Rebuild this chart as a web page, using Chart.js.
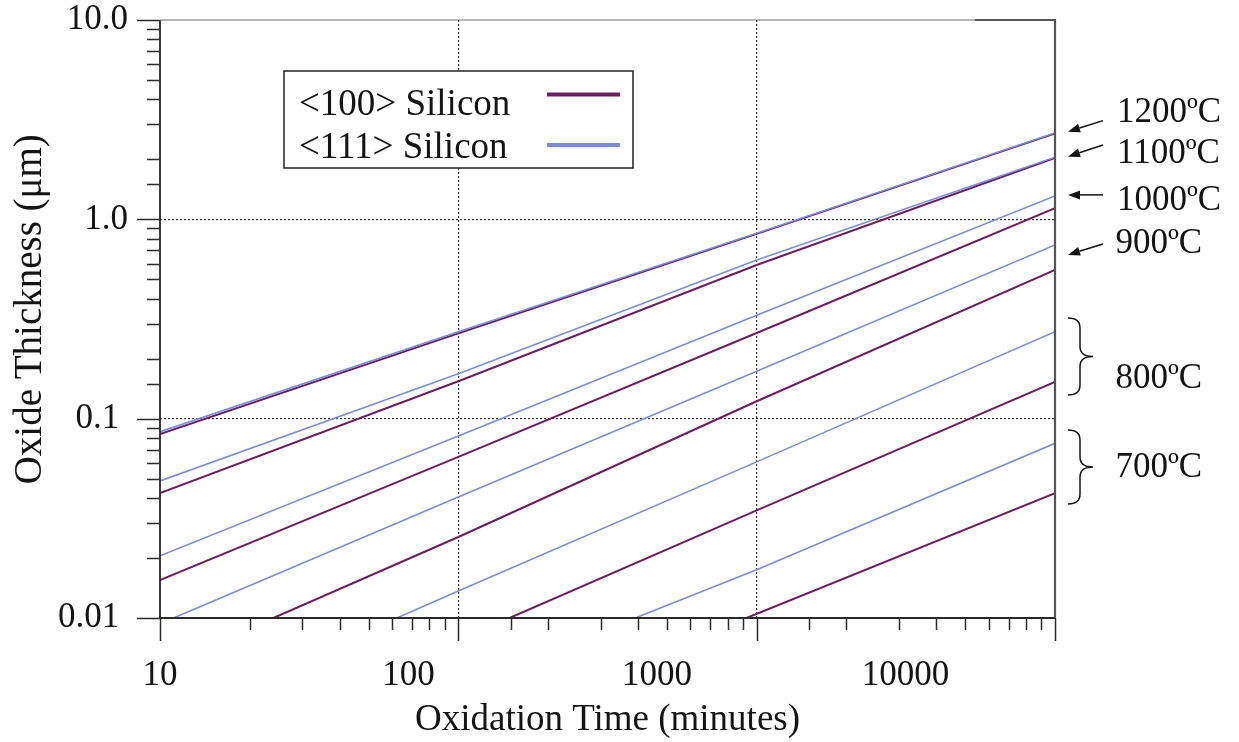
<!DOCTYPE html>
<html><head><meta charset="utf-8">
<script src="https://cdn.jsdelivr.net/npm/chart.js@4.4.1/dist/chart.umd.min.js"></script>
<style>html,body{margin:0;padding:0;background:#fff}canvas{display:block}</style>
</head><body>
<canvas id="c" width="1239" height="742"></canvas>
<script>
// ---------------- data ----------------
const seriesNames = ['<100> Silicon', '<111> Silicon'];
const temperatures = ['1200ºC', '1100ºC', '1000ºC', '900ºC', '800ºC', '700ºC'];

const xTickValues = [10, 100, 1000, 10000];
const xTickLabels = ['10', '100', '1000', '10000'];
const yTickValues = [0.01, 0.1, 1, 10];
const yTickLabels = ['0.01', '0.1', '1.0', '10.0'];

// oxidation time (minutes)
const tDecades = [10, 100, 1000, 10000];
const t900_100 = [24.0, 100, 1000, 10000];
const t900_111 = [11.1, 100, 1000, 10000];
const t800_100 = [148.5, 1000, 10000];
const t800_111 = [62.2, 100, 1000, 10000];
const t700_100 = [924.5, 10000];
const t700_111 = [391.5, 1000, 10000];

// oxide thickness (um)
const d1200_100 = [0.0838, 0.268, 0.845, 2.70];
const d1200_111 = [0.0861, 0.273, 0.852, 2.71];
const d1100_100 = [0.0423, 0.154, 0.590, 2.03];
const d1100_111 = [0.0487, 0.168, 0.626, 2.05];
const d1000_100 = [0.0155, 0.0643, 0.269, 1.137];
const d1000_111 = [0.0205, 0.0819, 0.330, 1.311];
const d900_100 = [0.01, 0.0255, 0.1223, 0.557];
const d900_111 = [0.01, 0.0405, 0.173, 0.744];
const d800_100 = [0.01, 0.0347, 0.153];
const d800_111 = [0.01, 0.01366, 0.0607, 0.273];
const d700_100 = [0.01, 0.0423];
const d700_111 = [0.01, 0.01747, 0.0752];

// ---------------- styling ----------------
const PURPLE = 'rgb(108,30,98)';
const BLUE = 'rgb(122,142,214)';
const INK = '#141414';
const SERIF = '"Liberation Serif", "Times New Roman", serif';
Chart.defaults.font.family = SERIF;
Chart.defaults.color = INK;

const pts = (ts, ds) => ts.map((t, i) => ({x: t, y: ds[i]}));
const series111 = [[tDecades, d1200_111], [tDecades, d1100_111], [tDecades, d1000_111], [t900_111, d900_111], [t800_111, d800_111], [t700_111, d700_111]];
const series100 = [[tDecades, d1200_100], [tDecades, d1100_100], [tDecades, d1000_100], [t900_100, d900_100], [t800_100, d800_100], [t700_100, d700_100]];

const datasets = [];
series111.forEach((s, i) => datasets.push({label: seriesNames[1], temp: temperatures[i], data: pts(s[0], s[1]), borderColor: BLUE, borderWidth: 1.6}));
series100.forEach((s, i) => datasets.push({label: seriesNames[0], temp: temperatures[i], data: pts(s[0], s[1]), borderColor: PURPLE, borderWidth: 2}));
datasets.forEach(d => Object.assign(d, {xAxisID: 'x', yAxisID: 'y', pointRadius: 0, tension: 0, fill: false}));

const isDecade = v => { const l = Math.log10(v); return Math.abs(l - Math.round(l)) < 1e-6; };
const findLabel = (vals, labs, v) => { const i = vals.findIndex(t => Math.abs(v - t) / t < 1e-6); return i < 0 ? '' : labs[i]; };
const gridColor = (vals) => (ctx) => {
  const v = ctx.tick && ctx.tick.value;
  return (v && vals.some(t => Math.abs(v - t) / t < 1e-6)) ? '#3a3a3a' : 'rgba(0,0,0,0)';
};

// ---------------- decorations: ticks, frame, legend, temperature notes ----------------
const decor = {
  id: 'decor',
  afterDraw(chart) {
    const {ctx, chartArea: a, scales: {x, y}} = chart;
    ctx.save();
    // minor / major tick marks (outside)
    ctx.strokeStyle = '#2a2a2a';
    ctx.lineWidth = 1.5;
    ctx.beginPath();
    x.ticks.forEach(t => {
      const px = Math.round(x.getPixelForValue(t.value)) + 0.5;
      if (px < a.left - 1 || px > a.right + 1) return;
      ctx.moveTo(px, a.bottom); ctx.lineTo(px, a.bottom + (isDecade(t.value) ? 23 : 12));
    });
    y.ticks.forEach(t => {
      const py = Math.round(y.getPixelForValue(t.value)) + 0.5;
      if (py < a.top - 1 || py > a.bottom + 1) return;
      ctx.moveTo(a.left, py); ctx.lineTo(a.left - (isDecade(t.value) ? 23 : 13), py);
    });
    ctx.stroke();
    // axis lines
    ctx.lineWidth = 1.8;
    ctx.beginPath();
    ctx.moveTo(a.left, a.top); ctx.lineTo(a.left, a.bottom); ctx.lineTo(a.right, a.bottom);
    ctx.stroke();
    // top & right frame
    ctx.strokeStyle = '#707070';
    ctx.lineWidth = 1.2;
    ctx.beginPath(); ctx.moveTo(a.left, a.top); ctx.lineTo(a.right, a.top); ctx.stroke();
    ctx.strokeStyle = '#555';
    ctx.lineWidth = 2.2;
    ctx.beginPath(); ctx.moveTo(a.right - 80, a.top); ctx.lineTo(a.right, a.top); ctx.lineTo(a.right, a.bottom); ctx.stroke();

    // legend
    const lx = a.left + 124, ly = a.top + 51, lw = 349, lh = 97;
    ctx.fillStyle = '#fff';
    ctx.fillRect(lx, ly, lw, lh);
    ctx.strokeStyle = '#222'; ctx.lineWidth = 1.5;
    ctx.strokeRect(lx, ly, lw, lh);
    ctx.font = '37px ' + SERIF;
    ctx.fillStyle = INK; ctx.textAlign = 'left'; ctx.textBaseline = 'alphabetic';
    const entries = [{label: seriesNames[0], color: PURPLE, ty: 44, ly: 23.5}, {label: seriesNames[1], color: BLUE, ty: 87, ly: 74}];
    entries.forEach(e => {
      ctx.fillStyle = INK;
      ctx.fillText(e.label, lx + 15, ly + e.ty);
      ctx.strokeStyle = e.color; ctx.lineWidth = 4;
      ctx.beginPath(); ctx.moveTo(lx + 263, ly + e.ly); ctx.lineTo(lx + 336, ly + e.ly); ctx.stroke();
    });

    // temperature notes on the right (anchored on the thickness scale)
    const Y = v => y.getPixelForValue(v);
    ctx.font = '35px ' + SERIF;
    ctx.fillStyle = INK; ctx.strokeStyle = INK; ctx.lineWidth = 1.5;
    const textX = a.right + 62;
    const arrows = [
      {txt: temperatures[0], base: 3.093, tail: 3.127, tip: 2.754},
      {txt: temperatures[1], base: 1.926, tail: 2.362, tip: 2.063},
      {txt: temperatures[2], base: 1.115, tail: 1.326, tip: 1.326},
      {txt: temperatures[3], base: 0.676, tail: 0.7527, tip: 0.663}
    ];
    arrows.forEach(ar => {
      ctx.fillText(ar.txt, textX + (ar.txt.length < 6 ? -1.5 : 0), Y(ar.base));
      const x0 = a.right + 48, y0 = Y(ar.tail), x1 = a.right + 13, y1 = Y(ar.tip);
      const ang = Math.atan2(y1 - y0, x1 - x0);
      const hl = 12, hw = 4.5;
      const bx = x1 - hl * Math.cos(ang), by = y1 - hl * Math.sin(ang);
      ctx.beginPath(); ctx.moveTo(x0, y0); ctx.lineTo(bx, by); ctx.stroke();
      ctx.beginPath();
      ctx.moveTo(x1, y1);
      ctx.lineTo(bx + hw * Math.sin(ang), by - hw * Math.cos(ang));
      ctx.lineTo(bx - hw * Math.sin(ang), by + hw * Math.cos(ang));
      ctx.closePath(); ctx.fill();
    });
    const braces = [
      {txt: temperatures[4], base: 0.1426, top: 0.3201, bot: 0.1315},
      {txt: temperatures[5], base: 0.0512, top: 0.0878, bot: 0.03733}
    ];
    braces.forEach(b => {
      ctx.fillText(b.txt, textX - 1.5, Y(b.base));
      const yt = Y(b.top), yb = Y(b.bot), ym = (yt + yb) / 2;
      const x0 = a.right + 13, xm = a.right + 25, x1 = a.right + 38, r = 10;
      ctx.beginPath();
      ctx.moveTo(x0, yt);
      ctx.quadraticCurveTo(xm, yt, xm, yt + r);
      ctx.lineTo(xm, ym - r);
      ctx.quadraticCurveTo(xm, ym, x1, ym);
      ctx.quadraticCurveTo(xm, ym, xm, ym + r);
      ctx.lineTo(xm, yb - r);
      ctx.quadraticCurveTo(xm, yb, x0, yb);
      ctx.stroke();
    });
    ctx.restore();
  }
};

new Chart(document.getElementById('c'), {
  type: 'line',
  data: {datasets},
  plugins: [decor],
  options: {
    responsive: false,
    animation: false,
    layout: {padding: {top: 20, right: 184, left: 0, bottom: 0}},
    plugins: {legend: {display: false}, tooltip: {enabled: false}},
    scales: {
      x: {
        type: 'logarithmic', position: 'bottom', min: 10, max: 10000,
        afterFit: s => { s.height = 124; },
        ticks: {display: false, autoSkip: false},
        grid: {color: gridColor([100, 1000]), lineWidth: 1.2, drawTicks: false},
        border: {display: false, dash: [2, 2]},
        title: {display: true, text: 'Oxidation Time (minutes)', font: {size: 37, family: SERIF}, color: INK, padding: {bottom: 0, top: 0}}
      },
      xl: {
        type: 'logarithmic', position: {y: 0.01}, min: 10, max: 40000,
        afterBuildTicks: s => { s.ticks = xTickValues.map(v => ({value: v})); },
        ticks: {autoSkip: false, maxRotation: 0, padding: 37, font: {size: 35, family: SERIF}, color: INK,
                callback: v => findLabel(xTickValues, xTickLabels, v)},
        grid: {display: false, drawTicks: false},
        border: {display: false}
      },
      y: {
        type: 'logarithmic', position: 'left', min: 0.01, max: 10,
        afterFit: s => { s.width = 160; },
        ticks: {autoSkip: false, padding: 0, font: {size: 35, family: SERIF, lineHeight: 1}, color: INK,
                callback: v => { const l = findLabel(yTickValues, yTickLabels, v); return (l && v < 0.5) ? l + ' ' : l; }},
        grid: {color: gridColor([0.1, 1]), lineWidth: 1.2, drawTicks: true, tickLength: 32, tickColor: 'rgba(0,0,0,0)'},
        border: {display: false, dash: [2, 2]},
        title: {display: true, text: '  Oxide Thickness (μm)', font: {size: 39, family: SERIF}, color: INK, padding: {top: 7, bottom: 0}}
      }
    }
  }
});
</script>
</body></html>
